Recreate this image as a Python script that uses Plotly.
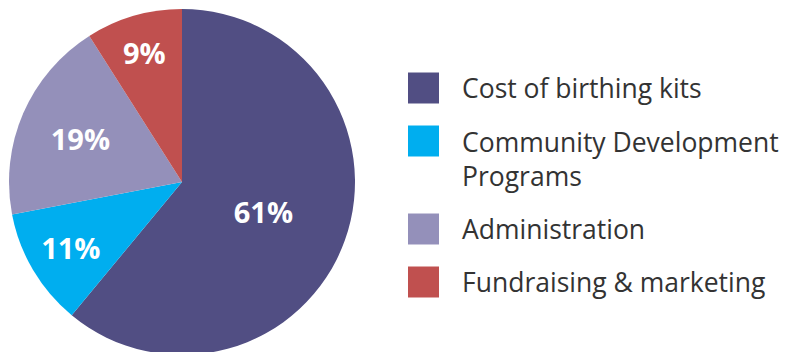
import plotly.graph_objects as go

categories = ["Cost of birthing kits", "Community Development<br>Programs", "Administration", "Fundraising & marketing"]
values = [61, 11, 19, 9]
colors = ["#514e83", "#00aeef", "#9490ba", "#c0504f"]

W, H = 802, 364

fig = go.Figure()
fig.add_trace(go.Pie(
    labels=categories,
    values=values,
    sort=False,
    direction="clockwise",
    rotation=0,
    marker=dict(colors=colors, line=dict(width=0)),
    textinfo="percent",
    textposition="inside",
    insidetextorientation="horizontal",
    textfont=dict(family="Open Sans", size=29, color="white", weight="bold"),
    hoverinfo="label+percent",
    showlegend=False,
    domain=dict(x=[9 / W, 355 / W], y=[1 - 355 / H, 1 - 9 / H]),
))

# custom legend (large swatches)
shapes = []
annotations = []
line_h = 35
y_center = 88
for i, (lab, col) in enumerate(zip(categories, colors)):
    nlines = lab.count("<br>") + 1
    shapes.append(dict(type="rect", xref="paper", yref="paper",
                       x0=408 / W, x1=439 / W,
                       y0=1 - (y_center + 15.5) / H, y1=1 - (y_center - 15.5) / H,
                       fillcolor=col, line=dict(width=0)))
    text_mid = y_center + (nlines - 1) * line_h / 2
    annotations.append(dict(text=lab, xref="paper", yref="paper",
                            x=460 / W, y=1 - text_mid / H,
                            xanchor="left", yanchor="middle", align="left",
                            showarrow=False,
                            font=dict(family="Open Sans", size=26.5, color="#333333")))
    y_center += 53 + line_h * (nlines - 1)

fig.update_layout(
    width=W, height=H,
    margin=dict(l=0, r=0, t=0, b=0),
    paper_bgcolor="white",
    plot_bgcolor="white",
    shapes=shapes,
    annotations=annotations,
)

fig.write_html("out.html", post_script="document.documentElement.style.overflow='hidden';document.body.style.overflow='hidden';document.body.style.margin='0';")
